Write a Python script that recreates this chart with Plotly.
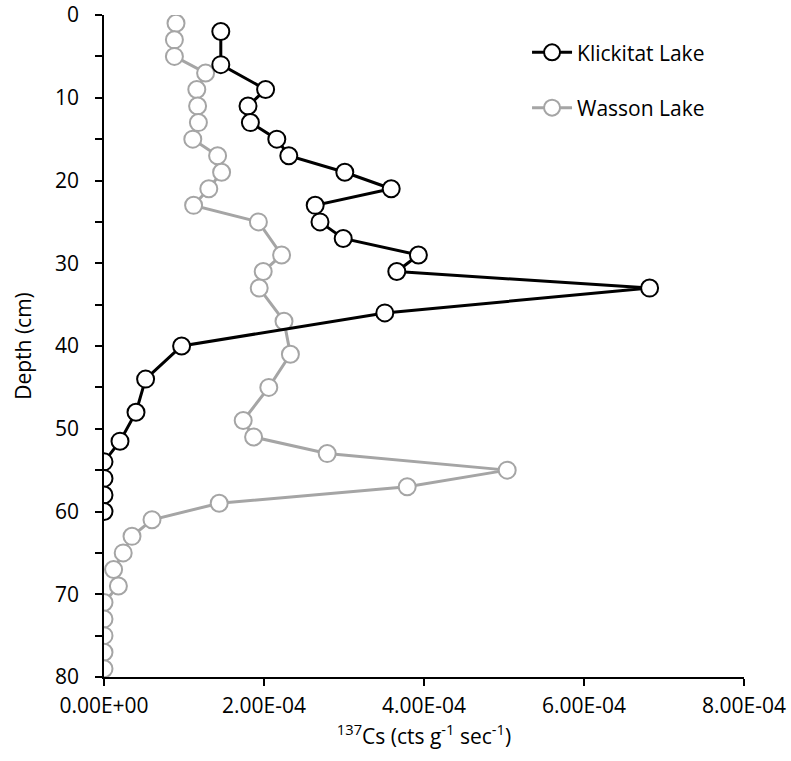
import plotly.graph_objects as go

# Klickitat Lake
klick_depth = [2, 6, 9, 11, 13, 15, 17, 19, 21, 23, 25, 27, 29, 31, 33, 36, 40, 44, 48, 51.5, 54, 56, 58, 60]
klick_cs = [1.46e-4, 1.46e-4, 2.02e-4, 1.80e-4, 1.83e-4, 2.16e-4, 2.31e-4, 3.01e-4, 3.59e-4, 2.64e-4,
            2.70e-4, 2.99e-4, 3.93e-4, 3.66e-4, 6.82e-4, 3.51e-4, 0.97e-4, 0.52e-4, 0.40e-4, 0.20e-4,
            0.0, 0.0, 0.0, 0.0]

# Wasson Lake
wasson_depth = [1, 3, 5, 7, 9, 11, 13, 15, 17, 19, 21, 23, 25, 29, 31, 33, 37, 41, 45, 49, 51, 53, 55,
                57, 59, 61, 63, 65, 67, 69, 71, 73, 75, 77, 79]
wasson_cs = [0.90e-4, 0.88e-4, 0.88e-4, 1.27e-4, 1.16e-4, 1.17e-4, 1.18e-4, 1.11e-4, 1.42e-4, 1.47e-4,
             1.31e-4, 1.12e-4, 1.93e-4, 2.22e-4, 1.99e-4, 1.94e-4, 2.25e-4, 2.33e-4, 2.06e-4, 1.74e-4,
             1.87e-4, 2.79e-4, 5.04e-4, 3.79e-4, 1.44e-4, 0.60e-4, 0.35e-4, 0.24e-4, 0.12e-4, 0.18e-4,
             0.0, 0.0, 0.0, 0.0, 0.0]

x_tickvals = [0, 2e-4, 4e-4, 6e-4, 8e-4]
x_ticktext = ["0.00E+00", "2.00E-04", "4.00E-04", "6.00E-04", "8.00E-04"]
y_tickvals = [0, 10, 20, 30, 40, 50, 60, 70, 80]

FONT = "Open Sans"
FS = 21
GRAY = "#A5A5A5"

fig = go.Figure()
fig.add_trace(go.Scatter(
    x=wasson_cs, y=wasson_depth, mode="lines+markers", name="Wasson Lake",
    legendgroup="w", legendrank=2,
    line=dict(color=GRAY, width=3),
    marker=dict(symbol="circle", size=17, color="white", line=dict(color=GRAY, width=2)),
))
fig.add_trace(go.Scatter(
    x=klick_cs, y=klick_depth, mode="lines+markers", name="Klickitat Lake",
    legendgroup="k", legendrank=1,
    line=dict(color="black", width=3),
    marker=dict(symbol="circle", size=17, color="white", line=dict(color="black", width=2)),
))

fig.update_layout(
    width=791, height=761,
    margin=dict(l=104, r=47, t=15, b=84, autoexpand=False),
    paper_bgcolor="white", plot_bgcolor="white",
    font=dict(family=FONT, size=FS, color="black"),
    showlegend=True,
    legend=dict(x=0.661, y=0.974, xanchor="left", yanchor="top",
                traceorder="grouped", tracegroupgap=25, itemwidth=40,
                font=dict(family=FONT, size=FS, color="black"),
                bgcolor="rgba(0,0,0,0)"),
    xaxis=dict(
        range=[0, 8e-4], tickvals=x_tickvals, ticktext=x_ticktext, automargin=False,
        ticklabeloverflow="allow",
        showgrid=False, zeroline=False, showline=True, linecolor="black", linewidth=1.5,
        ticks="outside", ticklen=7, tickwidth=1.5, tickcolor="black",
        ticklabelstandoff=2,
        title=dict(text="<sup>137</sup>Cs (cts g<sup>-1</sup> sec<sup>-1</sup>)", standoff=4,
                   font=dict(family=FONT, size=FS)),
    ),
    yaxis=dict(
        range=[80, 0], tickvals=y_tickvals, automargin=False,
        ticklabeloverflow="allow",
        showgrid=False, zeroline=False, showline=True, linecolor="black", linewidth=1.5,
        ticks="outside", ticklen=7, tickwidth=1.5, tickcolor="black",
        ticklabelstandoff=12,
        minor=dict(dtick=5, tick0=0, ticks="outside", ticklen=7, tickwidth=1.5, tickcolor="black"),
        title=dict(text="Depth (cm)", standoff=18, font=dict(family=FONT, size=FS)),
    ),
    xaxis2=dict(
        overlaying="x", anchor="y", side="bottom", range=[0, 8e-4], tickvals=x_tickvals,
        showticklabels=False, showgrid=False, zeroline=False, showline=False, automargin=False,
        ticks="inside", ticklen=7, tickwidth=1.5, tickcolor="black",
    ),
    yaxis2=dict(
        overlaying="y", anchor="x", side="left", range=[80, 0], tickvals=y_tickvals,
        showticklabels=False, showgrid=False, zeroline=False, showline=False, automargin=False,
        ticks="inside", ticklen=7, tickwidth=1.5, tickcolor="black",
    ),
)

# remove the browser's default 8px body margin so the figure fills the window exactly
fig.write_html("out.html",
               config={"displayModeBar": False},
               post_script="document.body.style.margin='0';document.body.style.overflow='hidden';")
